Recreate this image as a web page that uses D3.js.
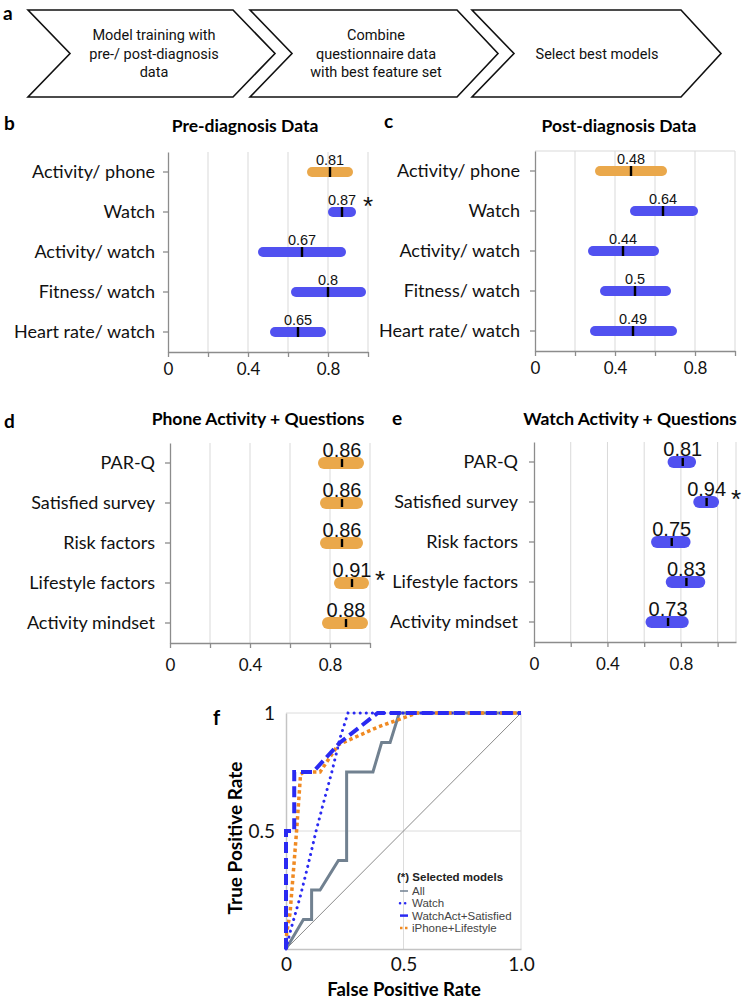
<!DOCTYPE html>
<html><head><meta charset="utf-8">
<script src="https://cdn.jsdelivr.net/npm/d3@7"></script>
<style>
html,body{margin:0;padding:0;background:#fff;}
svg{display:block;}
</style></head>
<body>
<svg id="chart" width="745" height="1000"></svg>
<script>
// ---------- DATA ----------
const flowSteps = [["Model training with","pre-/ post-diagnosis","data"],["Combine","questionnaire data","with best feature set"],["Select best models"]];

const dataCats = ["Activity/ phone","Watch","Activity/ watch","Fitness/ watch","Heart rate/ watch"];
const dataDevice = ["phone","watch","watch","watch","watch"];
const preMed = [0.81,0.87,0.67,0.8,0.65];
const preLo  = [0.72,0.825,0.475,0.64,0.535];
const preHi  = [0.90,0.915,0.865,0.965,0.765];
const preStar = [false,true,false,false,false];
const postMed = [0.48,0.64,0.44,0.5,0.49];
const postLo  = [0.325,0.50,0.29,0.35,0.30];
const postHi  = [0.635,0.79,0.595,0.655,0.685];
const postStar = [false,false,false,false,false];

const qCats = ["PAR-Q","Satisfied survey","Risk factors","Lifestyle factors","Activity mindset"];
const phoneQMed = [0.86,0.86,0.86,0.91,0.88];
const phoneQLo  = [0.77,0.78,0.78,0.85,0.79];
const phoneQHi  = [0.94,0.935,0.935,0.965,0.96];
const phoneQStar = [false,false,false,true,false];
const watchQMed = [0.81,0.94,0.75,0.83,0.73];
const watchQLo  = [0.76,0.90,0.67,0.75,0.64];
const watchQHi  = [0.85,0.975,0.82,0.90,0.81];
const watchQStar = [false,true,false,false,false];

const xTicks = [0,0.2,0.4,0.6,0.8,1.0];
const xTickLabels = ["0","","0.4","","0.8",""];

const rocAllFpr = [0,0.074,0.109,0.109,0.145,0.223,0.258,0.258,0.37,0.407,0.443,0.482,1];
const rocAllTpr = [0,0.125,0.125,0.25,0.25,0.375,0.375,0.75,0.75,0.875,0.875,1,1];
const rocWatchFpr = [0,0.017,0.06,0.095,0.128,0.157,0.195,0.23,0.264,1];
const rocWatchTpr = [0,0.07,0.22,0.36,0.5,0.61,0.75,0.894,1,1];
const rocWSFpr = [0,0,0.035,0.035,0.115,0.23,0.39,1];
const rocWSTpr = [0,0.5,0.5,0.75,0.75,0.875,1,1];
const rocPLFpr = [0,0.003,0.017,0.034,0.045,0.062,0.075,0.145,0.222,0.39,0.557,1];
const rocPLTpr = [0,0.07,0.15,0.36,0.5,0.74,0.75,0.75,0.865,0.94,1,1];
const legendNames = ["All","Watch","WatchAct+Satisfied","iPhone+Lifestyle"];
const rocTicks = [0,0.5,1];

// ---------- STYLE ----------
const ORANGE = "#eaa84b", BLUE = "#5151f0", LBLUE="#2a2af2", LORANGE="#f08a22", SLATE="#718190";
const LABEL_FONT = "Lato, 'Open Sans', sans-serif";
const NUM_FONT = "'Liberation Sans', Arial, sans-serif";

const svg = d3.select("#chart");

// ---------- a: flow chevrons ----------
const chev = [
  {L:28,N:70,R:233,T:275,cx:154},
  {L:250,N:292,R:457,T:498,cx:376},
  {L:472,N:514,R:681,T:721,cx:597}
];
const top0=10, bot0=97, mid0=(top0+bot0)/2;
svg.append("text").attr("x",3).attr("y",20).text("a")
  .style("font-family",LABEL_FONT).style("font-weight","bold").style("font-size","19px");
chev.forEach((c,i)=>{
  svg.append("path")
    .attr("d",`M${c.L},${top0}L${c.R},${top0}L${c.T},${mid0}L${c.R},${bot0}L${c.L},${bot0}L${c.N},${mid0}Z`)
    .attr("fill","#fff").attr("stroke","#111").attr("stroke-width",1.6).attr("stroke-linejoin","miter");
  const lines = flowSteps[i];
  const lh = 18.5;
  const y0 = mid0 - (lines.length-1)*lh/2;
  lines.forEach((t,j)=>{
    svg.append("text").attr("x",c.cx).attr("y",y0+j*lh).attr("dy","0.35em")
      .attr("text-anchor","middle").text(t)
      .style("font-family","Roboto, sans-serif").style("font-size","14.5px").style("fill","#111");
  });
});

// ---------- bar panels ----------
function panel(opt){
  const g = svg.append("g");
  const x = d3.scaleLinear().domain(opt.domain).range(opt.xr);
  const y = d3.scaleBand().domain(opt.cats).range(opt.yr);
  g.selectAll(".grid").data(xTicks.slice(1)).join("line")
    .attr("x1",d=>x(d)).attr("x2",d=>x(d)).attr("y1",opt.yr[0]).attr("y2",opt.yr[1])
    .attr("stroke","#d9d9d9").attr("stroke-width",1);
  if(opt.domain[1]>1){
    g.append("line").attr("x1",x(opt.domain[1])).attr("x2",x(opt.domain[1]))
      .attr("y1",opt.yr[0]).attr("y2",opt.yr[1]).attr("stroke","#d9d9d9");
  }
  if(opt.topBorder){
    g.append("line").attr("x1",opt.xr[0]).attr("x2",opt.xr[1]).attr("y1",opt.yr[0]).attr("y2",opt.yr[0])
      .attr("stroke","#d9d9d9");
  }
  const ax = g.append("g").attr("transform",`translate(0,${opt.yr[1]})`)
    .call(d3.axisBottom(x).tickValues(xTicks).tickFormat((d,i)=>xTickLabels[i]).tickSize(5).tickSizeOuter(0).tickPadding(opt.xPad));
  const ay = g.append("g").attr("transform",`translate(${opt.xr[0]},0)`)
    .call(d3.axisLeft(y).tickSize(5).tickSizeOuter(0).tickPadding(opt.yPad));
  [ax,ay].forEach(a=>{
    a.selectAll("path,line").attr("stroke","#8c8c8c").attr("stroke-width",1.3);
    a.selectAll("text").style("font-family",LABEL_FONT).style("font-size","18px").style("fill","#111");
  });
  ax.selectAll("text").style("font-size","17px");
  const bw = opt.bw;
  opt.cats.forEach((c,i)=>{
    const cy = y(c)+y.bandwidth()/2;
    g.append("line").attr("x1",x(opt.lo[i])).attr("x2",x(opt.hi[i])).attr("y1",cy).attr("y2",cy)
      .attr("stroke",opt.dev[i]==="phone"?ORANGE:BLUE).attr("stroke-width",bw).attr("stroke-linecap","round");
    g.append("line").attr("x1",x(opt.med[i])).attr("x2",x(opt.med[i])).attr("y1",cy-opt.mh/2).attr("y2",cy+opt.mh/2)
      .attr("stroke","#000").attr("stroke-width",2.4);
    g.append("text").attr("x",x(opt.med[i])).attr("y",cy-opt.labOff).attr("text-anchor","middle")
      .text(String(opt.med[i])).style("font-family",NUM_FONT).style("font-size",opt.numSize+"px").style("fill","#111");
  });
  svg.append("text").attr("x",opt.titleX).attr("y",opt.titleY).attr("text-anchor","middle").text(opt.title)
    .style("font-family",LABEL_FONT).style("font-weight","bold").style("font-size","17.5px");
  svg.append("text").attr("x",opt.letterX).attr("y",opt.letterY).text(opt.letter)
    .style("font-family",LABEL_FONT).style("font-weight","bold").style("font-size","19px");
  return {x,y};
}
function star(xp,yp){
  svg.append("text").attr("x",xp).attr("y",yp).attr("text-anchor","middle").text("*")
    .style("font-family",NUM_FONT).style("font-size","26px").style("fill","#111");
}

const pb = panel({cats:dataCats,dev:dataDevice,med:preMed,lo:preLo,hi:preHi,domain:[0,1],xr:[168,368],yr:[152,352],
  xPad:6,yPad:8,bw:10,mh:10,labOff:7,numSize:14.5,title:"Pre-diagnosis Data",titleX:245,titleY:132,letter:"b",letterX:4,letterY:130});
const pc = panel({cats:dataCats,dev:dataDevice,med:postMed,lo:postLo,hi:postHi,domain:[0,1],xr:[535,735],yr:[151,351],topBorder:true,
  xPad:6,yPad:10,bw:10,mh:10,labOff:7,numSize:14.5,title:"Post-diagnosis Data",titleX:619,titleY:132,letter:"c",letterX:384,letterY:128});
const qDev = qCats.map(()=> "phone");
const qDevW = qCats.map(()=> "watch");
const pd = panel({cats:qCats,dev:qDev,med:phoneQMed,lo:phoneQLo,hi:phoneQHi,domain:[0,1],xr:[170,370],yr:[443,643],
  xPad:11,yPad:10,bw:12,mh:8,labOff:6,numSize:20,title:"Phone Activity + Questions",titleX:258,titleY:425,letter:"d",letterX:4,letterY:428});
const pe = panel({cats:qCats,dev:qDevW,med:watchQMed,lo:watchQLo,hi:watchQHi,domain:[0,1.1],xr:[534,736],yr:[442,642],
  xPad:11,yPad:11,bw:12,mh:8,labOff:6,numSize:20,title:"Watch Activity + Questions",titleX:630,titleY:425,letter:"e",letterX:392,letterY:425});

[[pb,preStar,dataCats],[pc,postStar,dataCats],[pd,phoneQStar,qCats],[pe,watchQStar,qCats]].forEach(([p,flags,cats],k)=>{
  flags.forEach((f,i)=>{
    if(!f) return;
    const cy = p.y(cats[i])+p.y.bandwidth()/2;
    const xr = p.x.range()[1];
    star(xr + (k===2?10:0), cy + (k===0?3:6));
  });
});

// ---------- f: ROC ----------
const rx = d3.scaleLinear().domain([0,1]).range([286,521]);
const ry = d3.scaleLinear().domain([0,1]).range([949,713]);
const fg = svg.append("g");
[0.5,1].forEach(v=>{
  fg.append("line").attr("x1",rx(v)).attr("x2",rx(v)).attr("y1",ry(0)).attr("y2",ry(1)).attr("stroke","#dcdcdc");
  fg.append("line").attr("x1",rx(0)).attr("x2",rx(1)).attr("y1",ry(v)).attr("y2",ry(v)).attr("stroke","#dcdcdc");
});
const fxAxis = fg.append("g").attr("transform",`translate(0,${ry(0)})`)
  .call(d3.axisBottom(rx).tickValues(rocTicks).tickFormat(d=>d===0?"0":d3.format(".1f")(d)).tickSize(0).tickSizeOuter(0).tickPadding(9));
const fyAxis = fg.append("g").attr("transform",`translate(${rx(0)},0)`)
  .call(d3.axisLeft(ry).tickValues([0.5,1]).tickFormat(d=>d===1?"1":"0.5").tickSize(0).tickSizeOuter(0).tickPadding(11));
[fxAxis,fyAxis].forEach(a=>{
  a.select(".domain").attr("stroke","#c4c4c4").attr("stroke-width",1.5);
  a.selectAll("text").style("font-family",LABEL_FONT).style("font-size","19px").style("fill","#111");
});
fg.append("line").attr("x1",rx(0)).attr("y1",ry(0)).attr("x2",rx(1)).attr("y2",ry(1)).attr("stroke","#8a8a8a").attr("stroke-width",1);
const line = d3.line().x(d=>rx(d[0])).y(d=>ry(d[1]));
const zip = (a,b)=>a.map((v,i)=>[v,b[i]]);
const series = [
  {fpr:rocAllFpr,tpr:rocAllTpr,color:SLATE,w:3,dash:null,cap:"butt"},
  {fpr:rocWatchFpr,tpr:rocWatchTpr,color:LBLUE,w:3,dash:"0.1,6",cap:"round"},
  {fpr:rocPLFpr,tpr:rocPLTpr,color:LORANGE,w:3.5,dash:"3.5,3",cap:"butt"},
  {fpr:rocWSFpr,tpr:rocWSTpr,color:LBLUE,w:4,dash:"11,5",cap:"butt"}
];
series.forEach(s=>{
  fg.append("path").attr("d",line(zip(s.fpr,s.tpr))).attr("fill","none").attr("stroke",s.color)
    .attr("stroke-width",s.w).attr("stroke-dasharray",s.dash).attr("stroke-linecap",s.cap).attr("stroke-linejoin","miter");
});
fg.append("text").attr("x",397).attr("y",881).text("(*) Selected models")
  .style("font-family",NUM_FONT).style("font-weight","bold").style("font-size","11.5px").style("fill","#222");
const legStyle = [
  {color:SLATE,w:1.5,dash:null,cap:"butt"},
  {color:LBLUE,w:2.5,dash:"0.1,5",cap:"round"},
  {color:LBLUE,w:2.5,dash:null,cap:"butt"},
  {color:LORANGE,w:2.5,dash:"2.5,2.5",cap:"butt"}
];
legendNames.forEach((n,i)=>{
  const cy = 891 + i*12.3;
  fg.append("line").attr("x1",400).attr("x2",408).attr("y1",cy).attr("y2",cy)
    .attr("stroke",legStyle[i].color).attr("stroke-width",legStyle[i].w).attr("stroke-dasharray",legStyle[i].dash).attr("stroke-linecap",legStyle[i].cap);
  fg.append("text").attr("x",412).attr("y",cy).attr("dy","0.36em").text(n)
    .style("font-family",NUM_FONT).style("font-size","11.5px").style("fill","#444");
});
svg.append("text").attr("x",404).attr("y",996).attr("text-anchor","middle").text("False Positive Rate")
  .style("font-family",LABEL_FONT).style("font-weight","bold").style("font-size","18.5px");
svg.append("text").attr("transform","translate(242,838) rotate(-90)").attr("text-anchor","middle").text("True Positive Rate")
  .style("font-family",LABEL_FONT).style("font-weight","bold").style("font-size","19px");
svg.append("text").attr("x",213).attr("y",725).text("f")
  .style("font-family",LABEL_FONT).style("font-weight","bold").style("font-size","20px");
</script>
</body></html>
